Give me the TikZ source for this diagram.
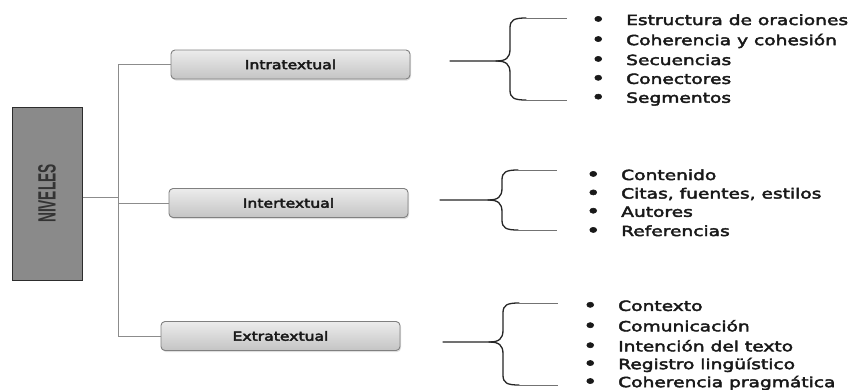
\documentclass[tikz,border=0pt]{standalone}
\usepackage{fontspec}
\setmainfont{DejaVu Sans}
\newfontfamily\itemfont[FakeStretch=1.33,FakeBold=3]{DejaVu Sans}
\newfontfamily\boxfont[FakeStretch=1.25,FakeBold=3.5]{DejaVu Sans}
\newfontfamily\narrowfont{Liberation Sans}
\usetikzlibrary{calc,shadows}
\definecolor{linegray}{RGB}{140,140,140}
\definecolor{boxtop}{RGB}{236,236,236}
\definecolor{boxbot}{RGB}{196,196,196}
\definecolor{boxedge}{RGB}{128,128,128}
\definecolor{nivfill}{RGB}{138,138,138}
\definecolor{nivedge}{RGB}{45,45,45}
\definecolor{inktext}{RGB}{25,25,25}
\tikzset{
  levelbox/.style={draw=boxedge, line width=0.9pt, rounded corners=4pt,
    top color=boxtop, bottom color=boxbot, minimum width=239pt,
    minimum height=29pt, inner sep=0pt, text=inktext,
    font=\boxfont\fontsize{12.5}{14}\selectfont,
    drop shadow={shadow xshift=1pt, shadow yshift=-1.5pt, opacity=0.25}},
  rootbox/.style={draw=nivedge, line width=1pt, fill=nivfill,
    minimum width=70pt, minimum height=173pt, inner sep=0pt},
  conn/.style={draw=linegray, line width=1pt},
  bracestroke/.style={draw=black!85, line width=1.3pt, line cap=round},
  listitem/.style={anchor=west, inner sep=0pt, text=inktext,
    font=\itemfont\fontsize{14}{16}\selectfont},
}
% one curly brace: #1 name, #2 tip x, #3 tip y, #4 spine x, #5 top y, #6 bottom y, #7 end x
\newcommand\levelbrace[7]{%
  \coordinate (#1tip) at (#2,#3);
  \coordinate (#1top) at (#7,#5);
  \coordinate (#1bot) at (#7,#6);
  \draw[bracestroke] (#1tip) -- (#4-14,#3)
    .. controls (#4-4,#3) and (#4,#3-3) .. (#4,#3-12)
    -- (#4,#5+10) .. controls (#4,#5+2) and (#4+4,#5) .. (#4+16,#5);
  \draw[bracestroke] (#4-14,#3)
    .. controls (#4-4,#3) and (#4,#3+3) .. (#4,#3+12)
    -- (#4,#6-10) .. controls (#4,#6-2) and (#4+4,#6) .. (#4+16,#6);
  \draw[draw=black!55, line width=1pt] (#4+16,#5) -- (#1top);
  \draw[draw=black!55, line width=1pt] (#4+16,#6) -- (#1bot);
}
\newcommand\bulletitem[3]{% #1 x, #2 y, #3 text
  \node[listitem] at (#1,#2) {\makebox[35pt][l]{\raisebox{-0.6pt}{\fontsize{18}{18}\selectfont•}}#3};
}
\begin{document}
\begin{tikzpicture}[x=1pt, y=-1pt]
\useasboundingbox (0,0) rectangle (855,389);
\fill[white] (0,0) rectangle (855,389);

% root and level boxes
\node[rootbox] (niv) at (47,193.5) {};
\node[rotate=90, inner sep=0pt, text=black!80] (nivtext) at (niv.center)
  {\scalebox{0.55}[1]{\narrowfont\bfseries\fontsize{25}{25}\selectfont NIVELES}};
\node[levelbox] (intra) at (290.5,64.5) {Intratextual};
\node[levelbox] (inter) at (288.5,203) {Intertextual};
\node[levelbox] (extra) at (280.5,336) {Extratextual};

% tree connectors
\coordinate (spine) at (118,0);
\draw[conn] (intra.west) -- (intra.west -| spine) -- (extra.west -| spine) -- (extra.west);
\draw[conn] (inter.west) -- (inter.west -| spine);
\draw[conn] ([yshift=-4pt]niv.east) -- ([yshift=-4pt]niv.east -| spine);

% braces
\levelbrace{ba}{450}{61}{510}{18}{100}{567}
\levelbrace{bb}{440}{200}{502}{170}{230}{557}
\levelbrace{bc}{443}{342}{503}{303}{385}{558}

% item lists
\bulletitem{591}{20}{Estructura de oraciones}
\bulletitem{591}{41}{Coherencia y cohesión}
\bulletitem{591}{60}{Secuencias}
\bulletitem{591}{79}{Conectores}
\bulletitem{591}{99}{Segmentos}

\bulletitem{586}{175}{Contenido}
\bulletitem{586}{194}{Citas, fuentes, estilos}
\bulletitem{586}{212}{Autores}
\bulletitem{586}{231}{Referencias}

\bulletitem{583}{306}{Contexto}
\bulletitem{583}{326}{Comunicación}
\bulletitem{583}{346}{Intención del texto}
\bulletitem{583}{365}{Registro lingüístico}
\bulletitem{583}{383}{Coherencia pragmática}
\end{tikzpicture}
\end{document}
